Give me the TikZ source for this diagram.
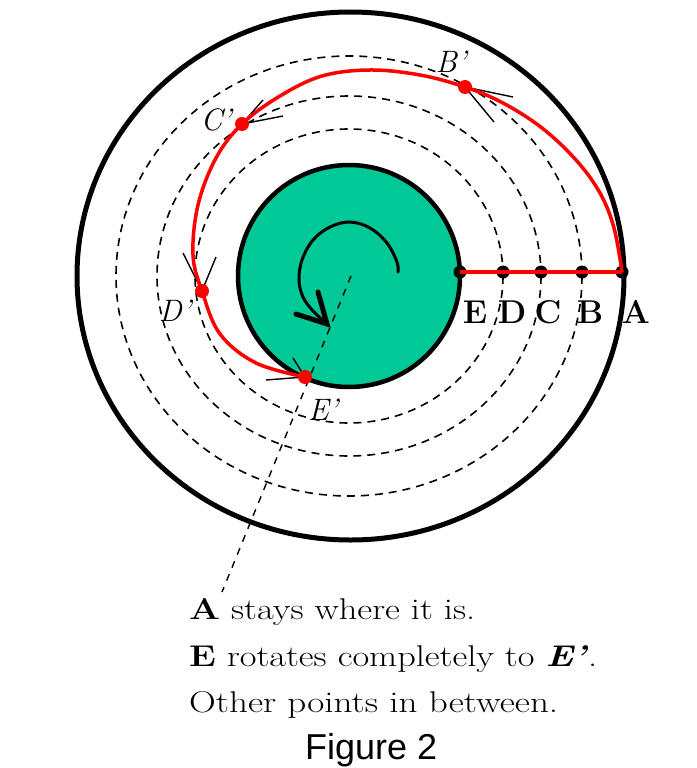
\documentclass[tikz,border=0pt]{standalone}
\usepackage{fontspec}
\usepackage{graphicx}
\newfontfamily\figfont{Liberation Sans}
\definecolor{diskfill}{RGB}{0,200,150}
\definecolor{pred}{RGB}{255,0,0}
\tikzset{
  dashring/.style={line width=1.6pt, dash pattern=on 8pt off 6pt},
  radial/.style={line width=1.4pt, dash pattern=on 7pt off 7pt},
  redcurve/.style={pred, line width=3.5pt, line join=round},
  reddot/.style={fill=pred},
  blackdot/.style={fill=black},
  strike/.style={line width=1.4pt},
  ptlabel/.style={inner sep=0pt, font=\fontsize{33}{33}\selectfont\bfseries},
  plabel/.style={inner sep=0pt, font=\fontsize{31}{31}\selectfont\itshape},
  txtline/.style={anchor=base west, inner sep=0pt}
}
\begin{document}
\begin{tikzpicture}[x=1pt,y=-1pt]
\useasboundingbox (0,0) rectangle (696,768);
% centres and points
\coordinate (O) at (349,276);
\coordinate (E) at (460,272);
\coordinate (D) at (503,272);
\coordinate (C) at (541,272);
\coordinate (B) at (582,272);
\coordinate (A) at (622,272);
\coordinate (Bp) at (465,87);
\coordinate (Cp) at (242,124);
\coordinate (Dp) at (202,291);
\coordinate (Ep) at (305,377);
\coordinate (tail) at (222,592);
% inner disk
\fill[diskfill] (349,276) ellipse [x radius=111, y radius=111];
% dashed rings
\draw[dashring] (O) ellipse [x radius=154, y radius=147];
\draw[dashring] (O) ellipse [x radius=192, y radius=180];
\draw[dashring] (O) ellipse [x radius=233, y radius=220];
% outer circle
\draw[line width=5pt] (350.5,276) ellipse [x radius=273.5, y radius=264];
% disk border
\draw[line width=4.5pt] (349,276) ellipse [x radius=111, y radius=111];
% radial dashed line
\draw[radial] (351,276) -- (tail);
% spiral arrow
\draw[line width=3pt, line cap=round] plot[smooth, tension=0.6] coordinates {(398,272) (397,262) (387,243) (370,228) (350,222) (330,227) (313,240) (302,260) (299,280) (303,297) (313,311) (325,322)};
\draw[line width=5pt, line cap=round, line join=miter] (318,292) -- (327,324) -- (296,314);
% strikes
\draw[strike] (Bp) -- (513,97);
\draw[strike] (Bp) -- (494,122);
\draw[strike] (Cp) -- (283,116);
\draw[strike] (Cp) -- (263,100);
\draw[strike] (Dp) -- (183,253);
\draw[strike] (Dp) -- (216,257);
\draw[strike] (Ep) -- (266,380);
\draw[strike] (Ep) -- (293,358);
% black dots
\foreach \p in {E,D,C,B,A} \fill[blackdot] (\p) circle (6.5);
% red path
\draw[redcurve] (E) -- (A);
\draw[redcurve] plot[smooth, tension=0.6] coordinates {(A) (614,228) (600,193) (576,160) (542,128) (503,103) (Bp) (420,75) (370,70) (322,76) (280,96) (Cp) (216,158) (198,205) (193,255) (Dp) (220,334) (256,363) (Ep)};
\foreach \p in {Bp,Cp,Dp,Ep} \fill[reddot] (\p) circle (7);
% labels
\node[ptlabel] (lE) at (475,312) {E};
\node[ptlabel] (lD) at (512,312) {D};
\node[ptlabel] (lC) at (548,312) {C};
\node[ptlabel] (lB) at (590,312) {B};
\node[ptlabel] (lA) at (636,312) {A};
\node[plabel] (lBp) at (451,62) {B'};
\node[plabel] (lCp) at (216,120) {C'};
\node[plabel] (lDp) at (175,311) {D'};
\node[plabel] (lEp) at (323,410) {E'};
% text
\node[txtline] (t1) at (189,619) {\resizebox{286pt}{\height}{\fontsize{30}{30}\selectfont\textbf{A} stays where it is.}};
\node[txtline] (t2) at (189,666) {\resizebox{408pt}{\height}{\fontsize{30}{30}\selectfont\textbf{E} rotates completely to \textbf{\textit{E'}}.}};
\node[txtline] (t3) at (189,712) {\resizebox{369pt}{\height}{\fontsize{30}{30}\selectfont Other points in between.}};
\node[txtline] (fig) at (305,759) {\figfont\fontsize{36}{36}\selectfont Figure 2};
\end{tikzpicture}
\end{document}
